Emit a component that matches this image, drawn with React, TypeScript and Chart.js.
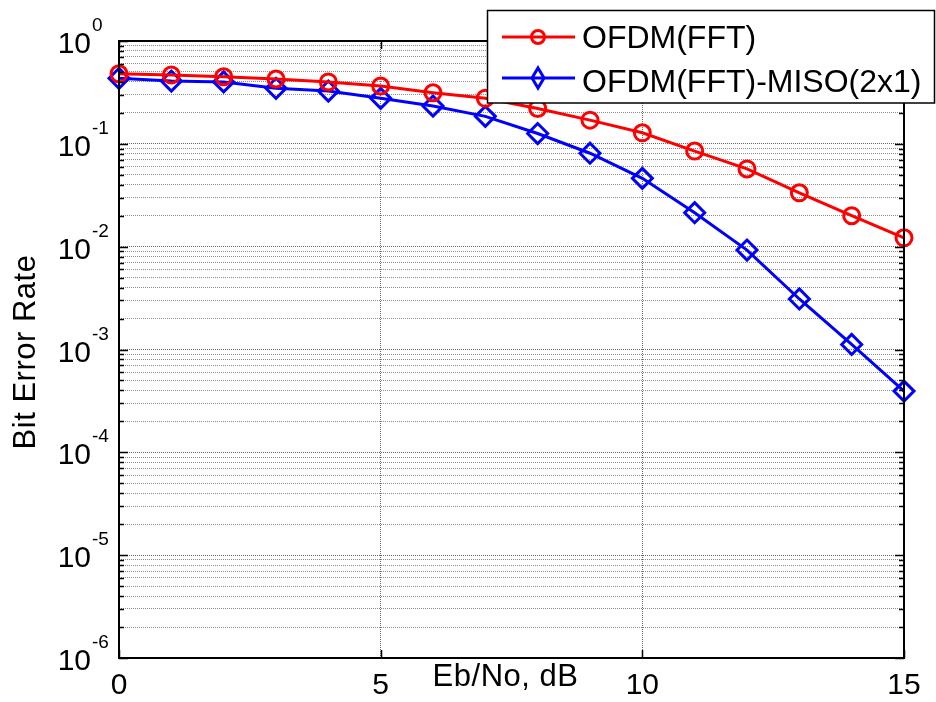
import React, { useEffect, useRef } from 'react';
import { Chart, registerables } from 'chart.js';

Chart.register(...registerables);

// ---- data ----
const ebNo = [0, 1, 2, 3, 4, 5, 6, 7, 8, 9, 10, 11, 12, 13, 14, 15];
const berOfdm = [0.48, 0.467, 0.45, 0.427, 0.4, 0.365, 0.314, 0.277, 0.221, 0.17, 0.128, 0.085, 0.057, 0.0334, 0.02, 0.0122];
const berMiso = [0.434, 0.408, 0.4, 0.347, 0.326, 0.277, 0.233, 0.185, 0.126, 0.081, 0.0462, 0.0214, 0.00927, 0.0031, 0.00112, 0.000394];
const seriesLabels = ['OFDM(FFT)', 'OFDM(FFT)-MISO(2x1)'];
const seriesColors = ['#ff0000', '#0000ff'];
const xTickValues = [0, 5, 10, 15];
const yDecades = [-6, -5, -4, -3, -2, -1, 0];
const xTitle = 'Eb/No, dB';
const yTitle = 'Bit Error Rate';

const FONT = '"Liberation Sans", Arial, Helvetica, sans-serif';

const isDecade = (v: number) => Math.abs(Math.log10(v) - Math.round(Math.log10(v))) < 1e-9;

function buildLogTicks() {
  const ticks: { value: number }[] = [];
  for (let i = 0; i < yDecades.length - 1; i++) {
    const base = Math.pow(10, yDecades[i]);
    for (let m = 1; m <= 9; m++) ticks.push({ value: m * base });
  }
  ticks.push({ value: Math.pow(10, yDecades[yDecades.length - 1]) });
  return ticks;
}

const matlabPlugin = {
  id: 'matlabAxes',
  afterDatasetsDraw(chart: any) {
    const { ctx, chartArea: a, scales } = chart;
    const xs = scales.x;
    const ys = scales.y;
    ctx.save();
    ctx.strokeStyle = '#000';
    ctx.lineWidth = 1.5;
    ctx.setLineDash([]);
    for (const t of ys.ticks) {
      const py = Math.round(ys.getPixelForValue(t.value)) + 0.5;
      const len = isDecade(t.value) ? 9 : 5;
      ctx.beginPath();
      ctx.moveTo(a.left, py);
      ctx.lineTo(a.left + len, py);
      ctx.moveTo(a.right, py);
      ctx.lineTo(a.right - len, py);
      ctx.stroke();
    }
    for (const t of xs.ticks) {
      const px = Math.round(xs.getPixelForValue(t.value)) + 0.5;
      ctx.beginPath();
      ctx.moveTo(px, a.bottom);
      ctx.lineTo(px, a.bottom - 8);
      ctx.moveTo(px, a.top);
      ctx.lineTo(px, a.top + 8);
      ctx.stroke();
    }
    ctx.lineWidth = 2;
    ctx.strokeRect(a.left, a.top, a.right - a.left, a.bottom - a.top);
    ctx.restore();
  },
  afterDraw(chart: any) {
    const { ctx, chartArea: a, scales } = chart;
    const xs = scales.x;
    const ys = scales.y;
    ctx.save();
    ctx.fillStyle = '#000';
    (ctx as any).letterSpacing = '0px';
    for (const d of yDecades) {
      const py = ys.getPixelForValue(Math.pow(10, d));
      ctx.font = `30px ${FONT}`;
      ctx.textAlign = 'right';
      ctx.textBaseline = 'alphabetic';
      ctx.fillText('10', a.left - 28, py + 12);
      ctx.font = `19px ${FONT}`;
      ctx.textAlign = 'left';
      ctx.fillText(String(d), a.left - 27, py - 10);
    }
    ctx.font = `30px ${FONT}`;
    ctx.textAlign = 'center';
    for (const v of xTickValues) {
      ctx.fillText(String(v), xs.getPixelForValue(v), a.bottom + 36);
    }
    ctx.font = `31px ${FONT}`;
    (ctx as any).letterSpacing = '0.5px';
    ctx.fillText(xTitle, (a.left + a.right) / 2 - 6, a.bottom + 28);
    ctx.save();
    ctx.translate(35, 352);
    ctx.rotate(-Math.PI / 2);
    ctx.textAlign = 'center';
    ctx.fillText(yTitle, 0, 0);
    ctx.restore();

    // legend
    const lx = 487.5, ly = 10.5, lw = 447, lh = 92.5;
    ctx.fillStyle = '#fff';
    ctx.fillRect(lx, ly, lw, lh);
    ctx.strokeStyle = '#000';
    ctx.lineWidth = 1.5;
    ctx.strokeRect(lx, ly, lw, lh);
    const rows = [37, 78];
    const baselines = [48, 92];
    for (let i = 0; i < seriesLabels.length; i++) {
      const ry = rows[i];
      ctx.strokeStyle = seriesColors[i];
      ctx.lineWidth = 3;
      ctx.beginPath();
      ctx.moveTo(502, ry);
      ctx.lineTo(575, ry);
      ctx.stroke();
      ctx.beginPath();
      if (i === 0) {
        ctx.arc(538, ry, 6.5, 0, Math.PI * 2);
      } else {
        ctx.moveTo(538, ry - 10);
        ctx.lineTo(544, ry);
        ctx.lineTo(538, ry + 10);
        ctx.lineTo(532, ry);
        ctx.closePath();
      }
      ctx.stroke();
      ctx.fillStyle = '#000';
      ctx.font = `32px ${FONT}`;
      (ctx as any).letterSpacing = '0px';
      ctx.textAlign = 'left';
      ctx.fillText(seriesLabels[i], 582, baselines[i]);
    }
    ctx.restore();
  },
};

export default function App() {
  const ref = useRef<HTMLCanvasElement | null>(null);
  useEffect(() => {
    if (!ref.current) return;
    const gridColor = (c: any) => {
      const v = c.tick ? c.tick.value : 0;
      return isDecade(v) ? 'rgba(0,0,0,0.6)' : 'rgba(0,0,0,0.45)';
    };
    const chart = new Chart(ref.current, {
      type: 'line',
      data: {
        datasets: [
          {
            label: seriesLabels[0],
            data: ebNo.map((x, i) => ({ x, y: berOfdm[i] })),
            borderColor: seriesColors[0],
            borderWidth: 3,
            pointStyle: 'circle',
            pointRadius: 8,
            pointBorderWidth: 3,
            pointBorderColor: seriesColors[0],
            pointBackgroundColor: 'rgba(0,0,0,0)',
            fill: false,
            tension: 0,
            clip: false as any,
          },
          {
            label: seriesLabels[1],
            data: ebNo.map((x, i) => ({ x, y: berMiso[i] })),
            borderColor: seriesColors[1],
            borderWidth: 3,
            pointStyle: 'rectRot',
            pointRadius: 10,
            pointBorderWidth: 3,
            pointBorderColor: seriesColors[1],
            pointBackgroundColor: 'rgba(0,0,0,0)',
            fill: false,
            tension: 0,
            clip: false as any,
          },
        ],
      },
      options: {
        animation: false,
        responsive: false,
        events: [],
        layout: { padding: { top: 41, right: 32, left: 0, bottom: 0 } },
        plugins: { legend: { display: false }, tooltip: { enabled: false } },
        scales: {
          x: {
            type: 'linear',
            min: 0,
            max: 15,
            ticks: { stepSize: 5, display: false, autoSkip: false },
            grid: {
              color: (c: any) => (c.tick && (c.tick.value === 0 || c.tick.value === 15) ? 'rgba(0,0,0,0)' : 'rgba(0,0,0,0.6)'),
              lineWidth: 1,
              drawTicks: false,
            },
            border: { display: false, dash: [1, 1] },
            afterFit: (s: any) => {
              s.height = 44;
            },
          },
          y: {
            type: 'logarithmic',
            min: 1e-6,
            max: 1,
            afterBuildTicks: (s: any) => {
              s.ticks = buildLogTicks();
            },
            ticks: { display: false, autoSkip: false },
            grid: {
              color: gridColor,
              lineWidth: 1,
              drawTicks: false,
            },
            border: { display: false, dash: [1, 1] },
            afterFit: (s: any) => {
              s.width = 119;
            },
          },
        },
      },
      plugins: [matlabPlugin],
    } as any);
    return () => chart.destroy();
  }, []);
  return (
    <div style={{ position: 'fixed', left: 0, top: 0, width: 936, height: 702, background: '#fff' }}>
      <canvas ref={ref} width={936} height={702} style={{ display: 'block' }} />
    </div>
  );
}
